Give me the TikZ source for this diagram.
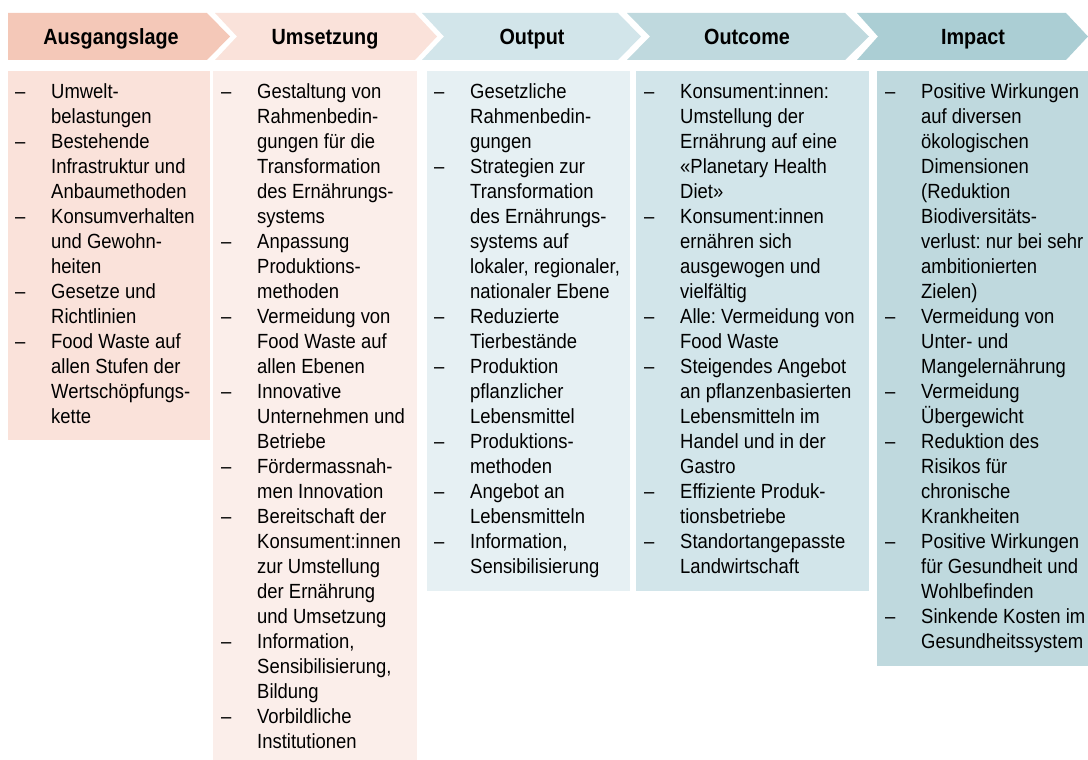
\documentclass[tikz,border=0pt]{standalone}
\usepackage{fontspec}
\setmainfont{Liberation Sans}[FakeStretch=0.9]
\usepackage{array}
\usepackage{xcolor}
\frenchspacing

\definecolor{chevA}{RGB}{244,200,184}
\definecolor{chevB}{RGB}{250,226,218}
\definecolor{chevC}{RGB}{210,229,234}
\definecolor{chevD}{RGB}{191,217,222}
\definecolor{chevE}{RGB}{171,206,212}
\definecolor{boxA}{RGB}{250,226,218}
\definecolor{boxB}{RGB}{251,238,234}
\definecolor{boxC}{RGB}{230,240,243}
\definecolor{boxD}{RGB}{210,229,234}
\definecolor{boxE}{RGB}{191,217,222}

\tikzset{
    head/.style={anchor=base, inner sep=0pt, font=\fontsize{22}{26}\selectfont\bfseries},
    list/.style={anchor=north west, inner sep=0pt, font=\fontsize{20.5}{25}\selectfont}
}

\begin{document}
\begin{tikzpicture}[x=1pt, y=-1pt]
        \useasboundingbox (0,0) rectangle (1088,760);

        % chevrons
        \fill[chevA] (8,13) -- (207,13) -- (230,36.5) -- (207,60) -- (8,60) -- cycle;
        \fill[chevB] (215,13) -- (415,13) -- (437,36.5) -- (415,60) -- (215,60) -- (237,36.5) -- cycle;
        \fill[chevC] (422,13) -- (618,13) -- (641,36.5) -- (618,60) -- (422,60) -- (444,36.5) -- cycle;
        \fill[chevD] (627,13) -- (845,13) -- (869,36.5) -- (845,60) -- (627,60) -- (650,36.5) -- cycle;
        \fill[chevE] (857,13) -- (1066,13) -- (1088,36.5) -- (1066,60) -- (857,60) -- (878,36.5) -- cycle;

        \node[head] (ausgang) at (111,45) {Ausgangslage};
        \node[head] (umsetz) at (325,45) {Umsetzung};
        \node[head] (output) at (532,45) {Output};
        \node[head] (outcome) at (747,45) {Outcome};
        \node[head] (impact) at (973,45) {Impact};

        % boxes
        \fill[boxA] (8,71) rectangle (210,440);
        \fill[boxB] (213,71) rectangle (417,760);
        \fill[boxC] (427,71) rectangle (630,591);
        \fill[boxD] (636,71) rectangle (869,591);
        \fill[boxE] (877,71) rectangle (1088,666);

        \node[list] (ausgangtxt) at (15,80.5) {\begin{tabular}{@{}p{36pt}@{}l@{}}
            – & Umwelt-\\ & belastungen\\
            – & Bestehende\\ & Infrastruktur und\\ & Anbaumethoden\\
            – & Konsumverhalten\\ & und Gewohn-\\ & heiten\\
            – & Gesetze und\\ & Richtlinien\\
            – & Food Waste auf\\ & allen Stufen der\\ & Wertschöpfungs-\\ & kette
        \end{tabular}};

        \node[list] (umsetztxt) at (221,80.5) {\begin{tabular}{@{}p{36pt}@{}l@{}}
            – & Gestaltung von\\ & Rahmenbedin-\\ & gungen für die\\ & Transformation\\ & des Ernährungs-\\ & systems\\
            – & Anpassung\\ & Produktions-\\ & methoden\\
            – & Vermeidung von\\ & Food Waste auf\\ & allen Ebenen\\
            – & Innovative\\ & Unternehmen und\\ & Betriebe\\
            – & Fördermassnah-\\ & men Innovation\\
            – & Bereitschaft der\\ & Konsument:innen\\ & zur Umstellung\\ & der Ernährung\\ & und Umsetzung\\
            – & Information,\\ & Sensibilisierung,\\ & Bildung\\
            – & Vorbildliche\\ & Institutionen
        \end{tabular}};

        \node[list] (outputtxt) at (434,80.5) {\begin{tabular}{@{}p{36pt}@{}l@{}}
            – & Gesetzliche\\ & Rahmenbedin-\\ & gungen\\
            – & Strategien zur\\ & Transformation\\ & des Ernährungs-\\ & systems auf\\ & lokaler, regionaler,\\ & nationaler Ebene\\
            – & Reduzierte\\ & Tierbestände\\
            – & Produktion\\ & pflanzlicher\\ & Lebensmittel\\
            – & Produktions-\\ & methoden\\
            – & Angebot an\\ & Lebensmitteln\\
            – & Information,\\ & Sensibilisierung
        \end{tabular}};

        \node[list] (outcometxt) at (644,80.5) {\begin{tabular}{@{}p{36pt}@{}l@{}}
            – & Konsument:innen:\\ & Umstellung der\\ & Ernährung auf eine\\ & «Planetary Health\\ & Diet»\\
            – & Konsument:innen\\ & ernähren sich\\ & ausgewogen und\\ & vielfältig\\
            – & Alle: Vermeidung von\\ & Food Waste\\
            – & Steigendes Angebot\\ & an pflanzenbasierten\\ & Lebensmitteln im\\ & Handel und in der\\ & Gastro\\
            – & Effiziente Produk-\\ & tionsbetriebe\\
            – & Standortangepasste\\ & Landwirtschaft
        \end{tabular}};

        \node[list] (impacttxt) at (885,80.5) {\begin{tabular}{@{}p{36pt}@{}l@{}}
            – & Positive Wirkungen\\ & auf diversen\\ & ökologischen\\ & Dimensionen\\ & (Reduktion\\ & Biodiversitäts-\\ & verlust: nur bei sehr\\ & ambitionierten\\ & Zielen)\\
            – & Vermeidung von\\ & Unter- und\\ & Mangelernährung\\
            – & Vermeidung\\ & Übergewicht\\
            – & Reduktion des\\ & Risikos für\\ & chronische\\ & Krankheiten\\
            – & Positive Wirkungen\\ & für Gesundheit und\\ & Wohlbefinden\\
            – & Sinkende Kosten im\\ & Gesundheitssystem
        \end{tabular}};
    \end{tikzpicture}
\end{document}
